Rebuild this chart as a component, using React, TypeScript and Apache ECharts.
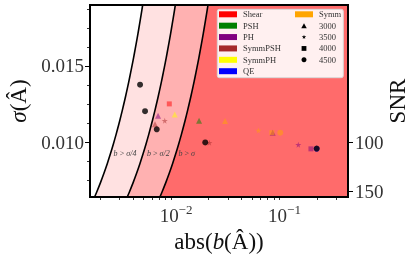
import React, { useEffect, useRef } from 'react';
import * as echarts from 'echarts';

// ---- data ----
const methods = ['Shear', 'PSH', 'PH', 'SymmPSH', 'SymmPH', 'QE', 'Symm'];
const snrLevels = ['3000', '3500', '4000', '4500'];

const pointMethod = ['Shear', 'PH', 'SymmPSH', 'SymmPSH', 'SymmPH', 'PSH', 'Symm', 'SymmPSH', 'Symm', 'Symm', 'PH', 'Symm', 'PH', 'PH', 'QE'];
const pointSNR = ['4000', '3000', '3000', '3500', '3000', '3000', '3000', '3500', '3500', '4000', '3000', '4500', '3500', '4000', '4500'];
const pointBias = [0.00867, 0.00683, 0.0064, 0.00787, 0.00973, 0.0163, 0.0283, 0.0203, 0.0575, 0.0765, 0.0778, 0.0914, 0.134, 0.1753, 0.198];
const pointSigma = [0.01251, 0.01174, 0.01117, 0.01141, 0.01181, 0.0114, 0.01139, 0.00996, 0.01077, 0.01062, 0.01062, 0.01062, 0.00983, 0.00956, 0.00956];

const refBias = [0.00466, 0.00518, 0.00664, 0.0186, 0.198];
const refSigma = [0.01377, 0.01203, 0.01084, 0.00998, 0.00958];

const thresholds = [0.25, 0.5, 1];
const thresholdLabels = ['b\u2009>\u2009σ/4', 'b\u2009>\u2009σ/2', 'b\u2009>\u2009σ'];
const sigmaTicks = [0.01, 0.015];
const sigmaMinorTicks = [0.0075, 0.00875, 0.01125, 0.0125, 0.01375, 0.01625, 0.0175, 0.01875];
const biasTicks = [0.01, 0.1];
const biasMinorTicks = [0.002, 0.003, 0.004, 0.005, 0.006, 0.007, 0.008, 0.009, 0.02, 0.03, 0.04, 0.05, 0.06, 0.07, 0.08, 0.09, 0.2, 0.3];
const snrTicks = [100, 150];

// ---- styles / layout ----
const methodColors = ['#ff0000', '#008000', '#800080', '#a52a2a', '#ffff00', '#0000ff', '#ffa500'];
const regionColors = ['#ffe1e1', '#ffb1b1', '#ff6b6b'];
const STAR = 'path://M50,0 L61,35 L98,35 L68,57 L79,91 L50,70 L21,91 L32,57 L2,35 L39,35 Z';
const TRI = 'path://M50,0 L100,87 L0,87 Z';
const snrSymbol: Record<string, string> = { '3000': TRI, '3500': STAR, '4000': 'rect', '4500': 'circle' };
const snrSize: Record<string, number> = { '3000': 6, '3500': 6, '4000': 5, '4500': 6 };
// legend icons: shapes padded inside a 100x100 box so they stay small
const legendIcon: Record<string, string> = {
  '3000': 'path://M0,0 M100,100 M50,8 L96,92 L4,92 Z',
  '3500': 'path://M-15,-15 M115,115 M50,0 L61,35 L98,35 L68,57 L79,91 L50,70 L21,91 L32,57 L2,35 L39,35 Z',
  '4000': 'path://M0,0 M100,100 M10,10 L90,10 L90,90 L10,90 Z',
  '4500': 'path://M0,0 M100,100 M50,8 A42,42 0 1 1 49.9,8 Z',
};

const Y_MIN = 0.0064, Y_MAX = 0.019, X_MIN = 0.00161, X_MAX = 0.385;
const SNR_MIN = -39, SNR_MAX = 155.4;
const SIGMA_OFFSET = 0.0007;
const STEPS = 40;
const FONT = '"Liberation Serif", "Times New Roman", serif';

export default function App() {
  const ref = useRef<HTMLDivElement>(null);
  useEffect(() => {
    const chart = echarts.init(ref.current!, null, { renderer: 'svg' });

    const curvePts = (t: number, api: any) => {
      const pts: number[][] = [];
      for (let i = 0; i <= STEPS; i++) {
        const s = Y_MIN + ((Y_MAX - Y_MIN) * i) / STEPS;
        pts.push(api.coord([t * (s + SIGMA_OFFSET), s]));
      }
      return pts;
    };

    const methodSeries = methods.map((m, mi) => ({
      type: 'scatter',
      name: m,
      xAxisIndex: 0,
      yAxisIndex: 0,
      z: 3,
      itemStyle: { color: methodColors[mi], opacity: 0.5 },
      data: pointMethod
        .map((pm, i) => ({ pm, i }))
        .filter((d) => d.pm === m)
        .map(({ i }) => ({
          value: [pointBias[i], pointSigma[i]],
          symbol: snrSymbol[pointSNR[i]],
          symbolSize: snrSize[pointSNR[i]],
        })),
    }));

    const shapeSeries = snrLevels.map((s) => ({
      type: 'scatter',
      name: s,
      xAxisIndex: 0,
      yAxisIndex: 0,
      symbol: snrSymbol[s],
      itemStyle: { color: '#000' },
      data: [] as any[],
    }));

    const legendText = { fontSize: 8.5, fontFamily: FONT, color: '#333', lineHeight: 10, padding: [0, 0, 0, 1] };

    const option: any = {
      animation: false,
      textStyle: { fontFamily: FONT },
      grid: {
        left: 90, top: 5, right: 67, bottom: 61,
        outerBoundsMode: 'none', containLabel: false,
        show: true, borderColor: '#000', borderWidth: 2, backgroundColor: 'transparent', z: 10,
      },
      xAxis: [
        {
          type: 'log', logBase: 10, min: X_MIN, max: X_MAX, position: 'bottom',
          name: '{n|abs(}{i|b}{n|(Â))}', nameLocation: 'middle', nameGap: 28,
          nameTextStyle: {
            rich: {
              n: { fontSize: 23, fontFamily: FONT, color: '#111' },
              i: { fontSize: 23, fontFamily: FONT, fontStyle: 'italic', color: '#111' },
            },
          },
          axisLine: { show: false },
          splitLine: { show: false },
          axisTick: { show: true, length: 5, customValues: biasTicks, lineStyle: { color: '#000', width: 1 } },
          axisLabel: {
            show: true, margin: 6, customValues: biasTicks,
            formatter: (v: number) => `{b|10}{s|−${Math.round(-Math.log10(v))}}`,
            rich: {
              b: { fontSize: 19, fontFamily: FONT, color: '#333', verticalAlign: 'bottom' },
              s: { fontSize: 13, fontFamily: FONT, color: '#333', verticalAlign: 'bottom', padding: [0, 0, 9, 0] },
            },
          },
        },
        {
          type: 'log', logBase: 10, min: X_MIN, max: X_MAX, position: 'bottom',
          axisLine: { show: false }, splitLine: { show: false },
          axisTick: { show: true, length: 3, customValues: biasMinorTicks, lineStyle: { color: '#000', width: 0.8 } },
          axisLabel: { show: false },
        },
      ],
      yAxis: [
        {
          type: 'value', min: Y_MIN, max: Y_MAX, position: 'left',
          name: '{i|σ}{n|(Â)}', nameLocation: 'middle', nameGap: 53, nameRotate: 90,
          nameTextStyle: {
            rich: {
              n: { fontSize: 23, fontFamily: FONT, color: '#111' },
              i: { fontSize: 23, fontFamily: FONT, fontStyle: 'italic', color: '#111' },
            },
          },
          axisLine: { show: false }, splitLine: { show: false },
          axisTick: { show: true, length: 5, customValues: sigmaTicks, lineStyle: { color: '#000', width: 1 } },
          axisLabel: {
            show: true, margin: 6, customValues: sigmaTicks, fontSize: 19, fontFamily: FONT, color: '#333',
            formatter: (v: number) => v.toFixed(3),
          },
        },
        {
          type: 'value', min: Y_MIN, max: Y_MAX, position: 'left',
          axisLine: { show: false }, splitLine: { show: false },
          axisTick: { show: true, length: 3, customValues: sigmaMinorTicks, lineStyle: { color: '#000', width: 0.8 } },
          axisLabel: { show: false },
        },
        {
          type: 'value', min: SNR_MIN, max: SNR_MAX, inverse: true, position: 'right',
          name: 'SNR', nameLocation: 'middle', nameGap: 38, nameRotate: 90, nameMoveOverlap: false,
          nameTextStyle: { fontSize: 23, fontFamily: FONT, color: '#111' },
          axisLine: { show: false }, splitLine: { show: false },
          axisTick: { show: true, length: 5, customValues: snrTicks, lineStyle: { color: '#000', width: 1 } },
          axisLabel: { show: true, margin: 7, customValues: snrTicks, fontSize: 19, fontFamily: FONT, color: '#333' },
        },
      ],
      legend: [
        {
          orient: 'vertical', left: 219, top: 9.3, padding: 0, itemGap: 1.38,
          itemWidth: 18, itemHeight: 6, z: 4, symbolKeepAspect: true,
          itemStyle: { opacity: 1 },
          textStyle: legendText,
          data: methods.slice(0, 6).map((m) => ({ name: m, icon: 'rect' })),
        },
        {
          orient: 'vertical', left: 295, top: 9.3, padding: 0, itemGap: 1.38,
          itemWidth: 18, itemHeight: 6, z: 4, symbolKeepAspect: true,
          itemStyle: { opacity: 1 },
          textStyle: legendText,
          data: [
            { name: 'Symm', icon: 'rect' },
            ...snrLevels.map((s) => ({ name: s, icon: legendIcon[s], itemStyle: { color: '#000', opacity: 1 } })),
          ],
        },
      ],
      graphic: [
        {
          type: 'rect', z: 3, silent: true,
          shape: { x: 217.3, y: 9.3, width: 126, height: 68.4, r: 2 },
          style: { fill: 'rgba(255,255,255,0.9)', stroke: '#d8d8d8', lineWidth: 1 },
        },
        ...thresholdLabels.map((t, i) => ({
          type: 'text', z: 5, silent: true,
          x: [125, 158.3, 186.7][i], y: 153.3,
          style: {
            text: t, fontSize: 8, fontFamily: FONT, fontStyle: 'italic', fill: '#444',
            align: 'center', verticalAlign: 'middle',
          },
        })),
      ],
      series: [
        {
          type: 'custom',
          name: 'regions',
          xAxisIndex: 0,
          yAxisIndex: 0,
          z: 1,
          silent: true,
          clip: true,
          data: thresholds.map((t) => [t, Y_MIN]),
          renderItem: (params: any, api: any) => {
            const i = params.dataIndex;
            const left = curvePts(thresholds[i], api);
            const right =
              i + 1 < thresholds.length
                ? curvePts(thresholds[i + 1], api).reverse()
                : [api.coord([X_MAX, Y_MAX]), api.coord([X_MAX, Y_MIN])];
            return {
              type: 'group',
              children: [
                { type: 'polygon', shape: { points: [...left, ...right] }, style: { fill: regionColors[i] } },
                { type: 'polyline', shape: { points: left }, style: { stroke: '#000', lineWidth: 1.6, fill: null } },
              ],
            };
          },
        },
        ...methodSeries,
        ...shapeSeries,
        {
          type: 'scatter',
          name: 'ref',
          xAxisIndex: 0,
          yAxisIndex: 0,
          z: 4,
          symbol: 'circle',
          symbolSize: 6,
          itemStyle: { color: '#000' },
          data: refBias.map((b, i) => [b, refSigma[i]]),
        },
      ],
    };

    chart.setOption(option);
    return () => chart.dispose();
  }, []);

  return <div ref={ref} style={{ position: 'fixed', left: 0, top: 0, width: 415, height: 258 }} />;
}
